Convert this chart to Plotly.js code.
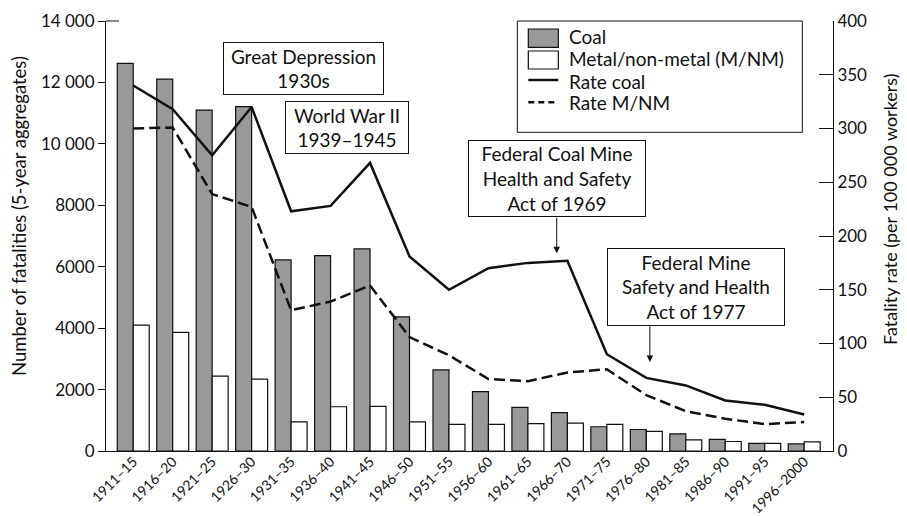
<!DOCTYPE html>
<html>
<head>
<meta charset="utf-8">
<script src="https://cdn.plot.ly/plotly-3.0.1.min.js"></script>
<style>html,body{margin:0;padding:0;background:#fff;}#chart{width:907px;height:516px;}</style>
</head>
<body>
<div id="chart"></div>
<script>
const periods = ['1911–15','1916–20','1921–25','1926–30','1931–35','1936–40','1941–45','1946–50','1951–55','1956–60','1961–65','1966–70','1971–75','1976–80','1981–85','1986–90','1991–95','1996–2000'];
const coalFatalities = [12620, 12110, 11100, 11210, 6220, 6360, 6580, 4370, 2640, 1930, 1420, 1250, 790, 700, 560, 380, 250, 230];
const mnmFatalities = [4100, 3860, 2440, 2340, 950, 1440, 1450, 950, 870, 870, 890, 910, 870, 640, 360, 310, 250, 300];
const rateCoal = [340, 318, 275, 320, 223, 228, 268, 181, 150, 170, 175, 177, 90, 68, 61, 47, 43, 34];
const rateMNM = [300, 301, 239, 227, 131, 139, 154, 106, 89, 67, 65, 73, 76, 52, 37, 30, 25, 27];
const leftTickVals = [0, 2000, 4000, 6000, 8000, 10000, 12000, 14000];
const leftTickText = ['0', '2000', '4000', '6000', '8000', '10 000', '12 000', '14 000'];
const rightTickVals = [0, 50, 100, 150, 200, 250, 300, 350, 400];
const seriesNames = ['Coal', 'Metal/non-metal (M/NM)', 'Rate coal', 'Rate M/NM'];
const leftTitle = 'Number of fatalities (5-year aggregates)';
const rightTitle = 'Fatality rate (per 100 000 workers)';

const FONT = 'Lato, "Open Sans", sans-serif';
const ink = '#111';

const traces = [
  {type: 'bar', name: seriesNames[0], x: periods, y: coalFatalities, marker: {color: '#999999', line: {color: ink, width: 1.2}}, showlegend: false},
  {type: 'bar', name: seriesNames[1], x: periods, y: mnmFatalities, marker: {color: '#ffffff', line: {color: ink, width: 1.2}}, showlegend: false},
  {type: 'scatter', mode: 'lines', name: seriesNames[2], x: periods, y: rateCoal, yaxis: 'y2', line: {color: ink, width: 2.5}, showlegend: false},
  {type: 'scatter', mode: 'lines', name: seriesNames[3], x: periods, y: rateMNM, yaxis: 'y2', line: {color: ink, width: 2.5, dash: '11px,5px'}, showlegend: false}
];

// custom legend geometry (paper coords)
const lx0 = 0.5809, lx1 = 0.6222, ltx = 0.6355;
const shapes = [
  {type: 'rect', xref: 'paper', yref: 'paper', x0: 0.5658, x1: 0.9578, y0: 0.7412, y1: 1.0, line: {color: ink, width: 1}, fillcolor: 'rgba(0,0,0,0)'},
  {type: 'rect', xref: 'paper', yref: 'paper', x0: lx0, x1: lx1, y0: 0.9388, y1: 0.9814, line: {color: ink, width: 1.2}, fillcolor: '#999999'},
  {type: 'rect', xref: 'paper', yref: 'paper', x0: lx0, x1: lx1, y0: 0.8884, y1: 0.9302, line: {color: ink, width: 1.2}, fillcolor: '#ffffff'},
  {type: 'line', xref: 'paper', yref: 'paper', x0: lx0, x1: lx1, y0: 0.8628, y1: 0.8628, line: {color: ink, width: 2.5}},
  {type: 'line', xref: 'paper', yref: 'paper', x0: lx0, x1: lx1, y0: 0.8109, y1: 0.8109, line: {color: ink, width: 2.5, dash: '6px,4px'}},
  {type: 'line', xref: 'paper', yref: 'paper', x0: 0, x1: 0.018, y0: 1, y1: 1, line: {color: ink, width: 1}}
];

const boxFont = {family: FONT, size: 19, color: ink};
const legFont = {family: FONT, size: 19, color: ink};
const legAnn = (text, y) => ({xref: 'paper', yref: 'paper', x: ltx, y: y, xanchor: 'left', yanchor: 'middle', text: text, showarrow: false, font: legFont, height: 20, borderpad: 0});
const annotations = [
  legAnn(seriesNames[0], 0.9640),
  legAnn(seriesNames[1], 0.9128),
  legAnn(seriesNames[2], 0.8616),
  legAnn(seriesNames[3], 0.8105),
  {xref: 'paper', yref: 'paper', x: 0.2721, y: 0.8888, xanchor: 'center', yanchor: 'middle', text: 'Great Depression<br>1930s', showarrow: false, font: boxFont, bordercolor: ink, borderwidth: 1, borderpad: 1, width: 157, height: 49, bgcolor: '#fff'},
  {xref: 'paper', yref: 'paper', x: 0.3318, y: 0.7516, xanchor: 'center', yanchor: 'middle', text: 'World War II<br>1939–1945', showarrow: false, font: boxFont, bordercolor: ink, borderwidth: 1, borderpad: 1, width: 120, height: 49, bgcolor: '#fff'},
  {xref: 'paper', yref: 'paper', x: 0.6210, y: 0.6342, xanchor: 'center', yanchor: 'middle', text: 'Federal Coal Mine<br>Health and Safety<br>Act of 1969', showarrow: false, font: boxFont, bordercolor: ink, borderwidth: 1, borderpad: 1, width: 174, height: 73, bgcolor: '#fff'},
  {xref: 'paper', yref: 'paper', x: 0.8118, y: 0.3809, xanchor: 'center', yanchor: 'middle', text: 'Federal Mine<br>Safety and Health<br>Act of 1977', showarrow: false, font: boxFont, bordercolor: ink, borderwidth: 1, borderpad: 1, width: 174, height: 74, bgcolor: '#fff'},
  {xref: 'x', yref: 'y', x: 10.73, y: 6440, text: '', showarrow: true, ax: 0, ay: -37, arrowhead: 2, arrowsize: 1.3, arrowwidth: 1, arrowcolor: ink},
  {xref: 'x', yref: 'y', x: 13.09, y: 2900, text: '', showarrow: true, ax: 0, ay: -37, arrowhead: 2, arrowsize: 1.3, arrowwidth: 1, arrowcolor: ink},
  {xref: 'paper', yref: 'paper', x: -0.1197, y: 0.5465, xanchor: 'center', yanchor: 'middle', textangle: -90, text: leftTitle, showarrow: false, font: {family: FONT, size: 18.5, color: ink}},
  {xref: 'paper', yref: 'paper', x: 1.0784, y: 0.5628, xanchor: 'center', yanchor: 'middle', textangle: -90, text: rightTitle, showarrow: false, font: {family: FONT, size: 18, color: ink}}
];

const layout = {
  width: 907, height: 516,
  margin: {l: 106, r: 74, t: 21, b: 65, pad: 0},
  paper_bgcolor: '#fff', plot_bgcolor: '#fff',
  font: {family: FONT, size: 17, color: ink},
  barmode: 'group', bargap: 0.19, bargroupgap: 0,
  showlegend: false,
  xaxis: {
    type: 'category', range: [-0.69, 17.73], showline: true, linecolor: ink, linewidth: 1,
    ticks: '', tickangle: -45, ticklabelstandoff: -4, tickfont: {family: FONT, size: 14, color: ink}, showgrid: false, zeroline: false, automargin: false
  },
  yaxis: {
    range: [0, 14000], tickvals: leftTickVals, ticktext: leftTickText, ticks: 'outside', ticklen: 7, tickcolor: ink,
    showline: true, linecolor: ink, linewidth: 1, showgrid: false, zeroline: false, automargin: false,
    tickfont: {family: FONT, size: 17, color: ink}
  },
  yaxis2: {
    range: [0, 400], tickvals: rightTickVals, overlaying: 'y', side: 'right', ticks: 'inside', ticklen: 14, tickcolor: ink,
    showline: true, linecolor: ink, linewidth: 1, showgrid: false, zeroline: false, automargin: false,
    tickfont: {family: FONT, size: 17, color: ink}
  },
  shapes: shapes,
  annotations: annotations
};

Plotly.newPlot('chart', traces, layout, {displayModeBar: false, staticPlot: true});
</script>
</body>
</html>
